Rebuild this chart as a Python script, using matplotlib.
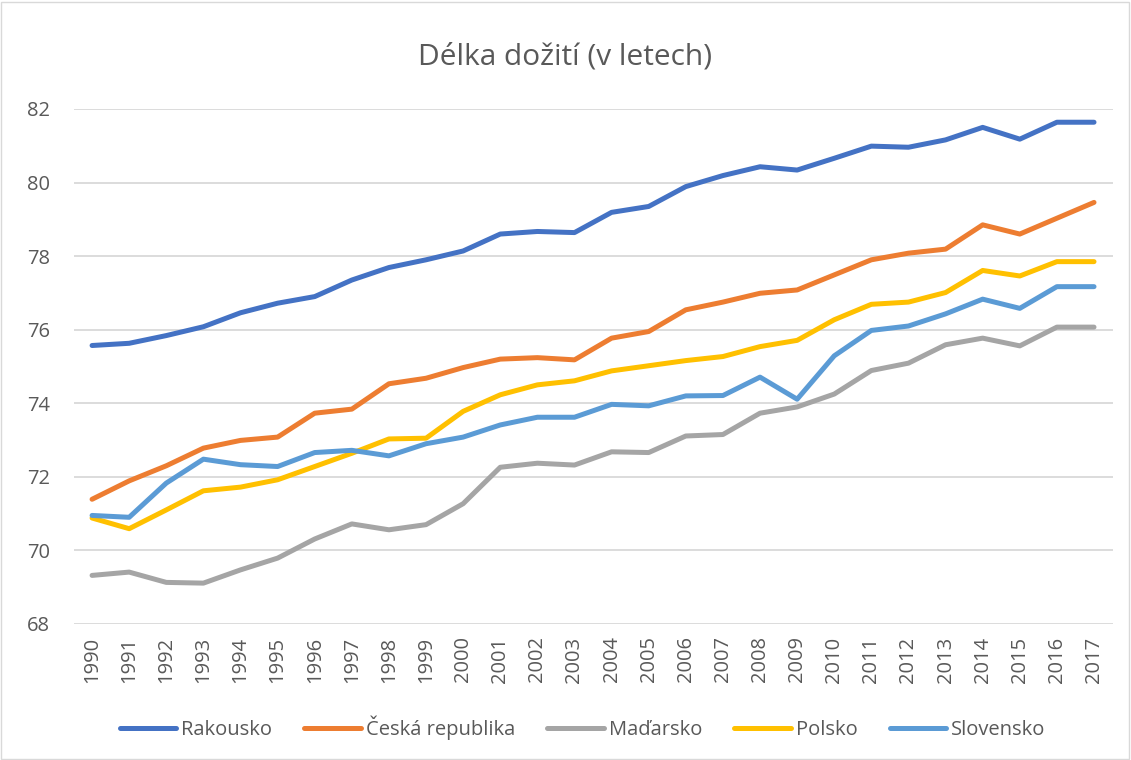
#!/usr/bin/env python3
"""Délka dožití (v letech) - line chart, 1990-2017."""

import matplotlib

matplotlib.use("Agg")
import matplotlib.pyplot as plt  # noqa: E402
from matplotlib.patches import Rectangle  # noqa: E402


YEARS = list(range(1990, 2018))

RAKOUSKO = [
    75.57, 75.63, 75.84, 76.08, 76.46, 76.72, 76.90, 77.35, 77.69, 77.90,
    78.14, 78.60, 78.67, 78.64, 79.19, 79.35, 79.89, 80.19, 80.43, 80.34,
    80.66, 80.99, 80.96, 81.16, 81.50, 81.18, 81.64, 81.64,
]
CESKO = [
    71.39, 71.89, 72.30, 72.78, 72.99, 73.08, 73.73, 73.84, 74.53, 74.68,
    74.97, 75.20, 75.24, 75.18, 75.77, 75.95, 76.54, 76.75, 76.99, 77.08,
    77.49, 77.90, 78.08, 78.19, 78.85, 78.60, 79.03, 79.46,
]
MADARSKO = [
    69.32, 69.41, 69.13, 69.11, 69.47, 69.79, 70.31, 70.72, 70.56, 70.70,
    71.27, 72.26, 72.37, 72.32, 72.68, 72.66, 73.11, 73.15, 73.73, 73.90,
    74.25, 74.89, 75.09, 75.59, 75.77, 75.56, 76.07, 76.07,
]
POLSKO = [
    70.88, 70.59, 71.10, 71.62, 71.72, 71.92, 72.28, 72.64, 73.03, 73.05,
    73.78, 74.23, 74.50, 74.61, 74.88, 75.02, 75.16, 75.27, 75.54, 75.71,
    76.27, 76.69, 76.75, 77.01, 77.61, 77.46, 77.85, 77.85,
]
SLOVENSKO = [
    70.95, 70.90, 71.83, 72.48, 72.33, 72.28, 72.66, 72.72, 72.57, 72.90,
    73.08, 73.41, 73.62, 73.62, 73.97, 73.93, 74.20, 74.21, 74.71, 74.11,
    75.29, 75.98, 76.10, 76.43, 76.83, 76.58, 77.17, 77.17,
]

SERIES = [
    ("Rakousko", RAKOUSKO, "#4472C4"),
    ("Česká republika", CESKO, "#ED7D31"),
    ("Maďarsko", MADARSKO, "#A5A5A5"),
    ("Polsko", POLSKO, "#FFC000"),
    ("Slovensko", SLOVENSKO, "#5B9BD5"),
]

TEXT_COLOR = "#595959"
GRID_COLOR = "#D9D9D9"

plt.rcParams["font.family"] = ["Open Sans", "DejaVu Sans"]


def main() -> None:
    fig = plt.figure(figsize=(11.31, 7.60), dpi=100)
    ax = fig.add_axes([0.065, 0.179, 0.9187, 0.6776])

    positions = list(range(len(YEARS)))
    for label, values, color in SERIES:
        ax.plot(
            positions,
            values,
            color=color,
            linewidth=3.6,
            solid_capstyle="round",
            solid_joinstyle="round",
            label=label,
        )

    ax.set_xlim(-0.5, len(YEARS) - 0.5)
    ax.set_ylim(68, 82)
    ax.set_yticks(range(68, 83, 2))
    ax.set_xticks(positions)
    ax.set_xticklabels([str(y) for y in YEARS], rotation=90)
    ax.tick_params(axis="both", length=0, labelsize=14.5, colors=TEXT_COLOR)
    ax.tick_params(axis="x", pad=9)
    ax.tick_params(axis="y", pad=17)
    ax.grid(True, axis="y", color=GRID_COLOR, linewidth=1.3)
    ax.set_axisbelow(True)
    for spine in ax.spines.values():
        spine.set_visible(False)

    fig.text(
        0.5, 0.925, "Délka dožití (v letech)",
        ha="center", va="center", fontsize=21.5, color=TEXT_COLOR,
    )

    fig.legend(
        loc="center",
        bbox_to_anchor=(0.515, 0.043),
        ncol=5,
        frameon=False,
        fontsize=14.5,
        handlelength=2.8,
        handletextpad=0.25,
        columnspacing=1.6,
        labelcolor=TEXT_COLOR,
    )

    fig.patches.append(
        Rectangle((0.001, 0.001), 0.997, 0.997, transform=fig.transFigure,
                  fill=False, edgecolor=GRID_COLOR, linewidth=1.0)
    )

    fig.savefig("out.png", dpi=100)
    plt.close(fig)


if __name__ == "__main__":
    main()
